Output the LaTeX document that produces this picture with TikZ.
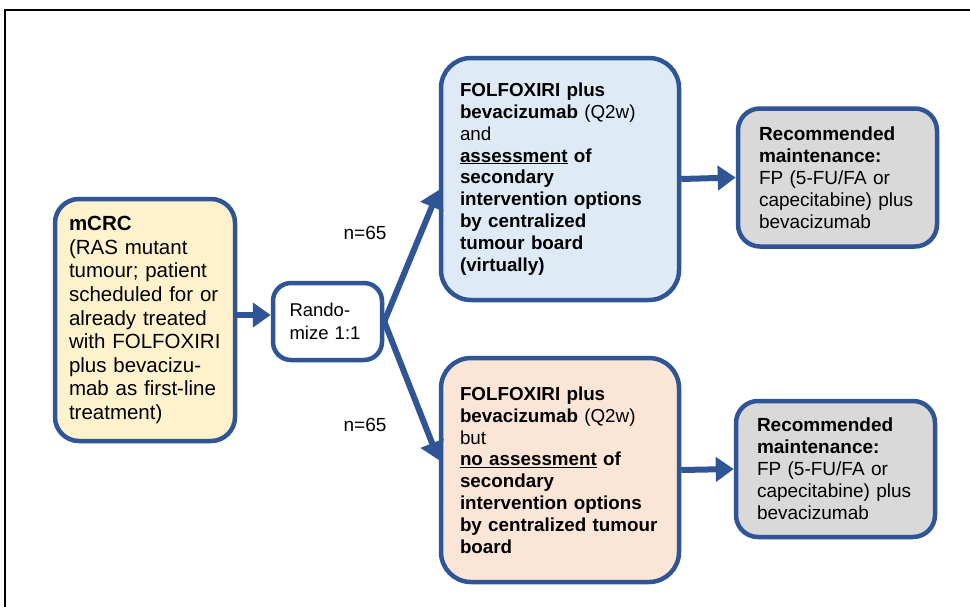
\documentclass[tikz,border=0pt]{standalone}
\usepackage{fontspec}
\setmainfont{Liberation Sans}
\usetikzlibrary{arrows.meta}
\definecolor{bord}{HTML}{2F5597}
\definecolor{fyellow}{HTML}{FFF2CC}
\definecolor{fblue}{HTML}{DEEBF7}
\definecolor{fpeach}{HTML}{FBE5D6}
\definecolor{fgray}{HTML}{D9D9D9}
\begin{document}
\begin{tikzpicture}[x=1pt,y=-1pt,
  box/.style={draw=bord, line width=4.5pt, align=left, inner ysep=0pt, anchor=center},
  conn/.style={draw=bord, line width=6pt, -{Triangle[length=18pt,width=24pt]}},
  lbl/.style={font=\fontsize{19}{22}\selectfont, inner sep=0pt}]
\useasboundingbox (0,0) rectangle (970,606);
\clip (0,0) rectangle (970,606);
\fill[white] (0,0) rectangle (970,606);
\draw[black, line width=2pt] (5,10) rectangle (990,630);

\node[box, fill=fyellow, rounded corners=24pt, minimum width=180pt, minimum height=242pt,
  text width=152pt, font=\fontsize{20.5}{23.6}\selectfont] (mcrc) at (145,320)
  {\textbf{mCRC}\\(RAS mutant\\tumour; patient\\scheduled for or\\already treated\\with FOLFOXIRI\\plus bevacizu-\\mab as first-line\\treatment)};

\node[box, fill=white, rounded corners=18pt, minimum width=109pt, minimum height=77pt,
  text width=76pt, font=\fontsize{18.5}{23}\selectfont] (rand) at (327.5,321.5)
  {Rando-\\mize 1:1};

\node[box, fill=fblue, rounded corners=30pt, minimum width=238pt, minimum height=242pt,
  text width=200pt, font=\fontsize{18.8}{21.8}\selectfont] (top) at (560,179)
  {\textbf{FOLFOXIRI plus}\\\textbf{bevacizumab} (Q2w)\\and\\\textbf{\underline{assessment} of}\\\textbf{secondary}\\\textbf{intervention options}\\\textbf{by centralized}\\\textbf{tumour board}\\\textbf{(virtually)}};

\node[box, fill=fpeach, rounded corners=30pt, minimum width=238pt, minimum height=224pt,
  text width=200pt, font=\fontsize{18.8}{21.8}\selectfont] (bot) at (560,470)
  {\textbf{FOLFOXIRI plus}\\\textbf{bevacizumab} (Q2w)\\but\\\textbf{\underline{no assessment} of}\\\textbf{secondary}\\\textbf{intervention options}\\\textbf{by centralized tumour}\\\textbf{board}};

\node[box, fill=fgray, rounded corners=22pt, minimum width=199pt, minimum height=138pt,
  text width=157pt, font=\fontsize{19}{22}\selectfont] (rec1) at (837.5,177.5)
  {\textbf{Recommended}\\\textbf{maintenance:}\\FP (5-FU/FA or\\capecitabine) plus\\bevacizumab};

\node[box, fill=fgray, rounded corners=22pt, minimum width=199pt, minimum height=136pt,
  text width=157pt, font=\fontsize{19}{22}\selectfont] (rec2) at (835.5,469)
  {\textbf{Recommended}\\\textbf{maintenance:}\\FP (5-FU/FA or\\capecitabine) plus\\bevacizumab};

\node[lbl] (n1) at (365,233) {n=65};
\node[lbl] (n2) at (365,425) {n=65};

\draw[conn] (mcrc.east |- 0,315) -- (rand.west |- 0,315);
\draw[conn] (rand.east) -- ([yshift=-11pt]top.west);
\draw[conn] (rand.east) -- ([yshift=10pt]bot.west);
\draw[conn] (top.east) -- (rec1.west);
\draw[conn] (bot.east) -- (rec2.west);
\end{tikzpicture}
\end{document}
